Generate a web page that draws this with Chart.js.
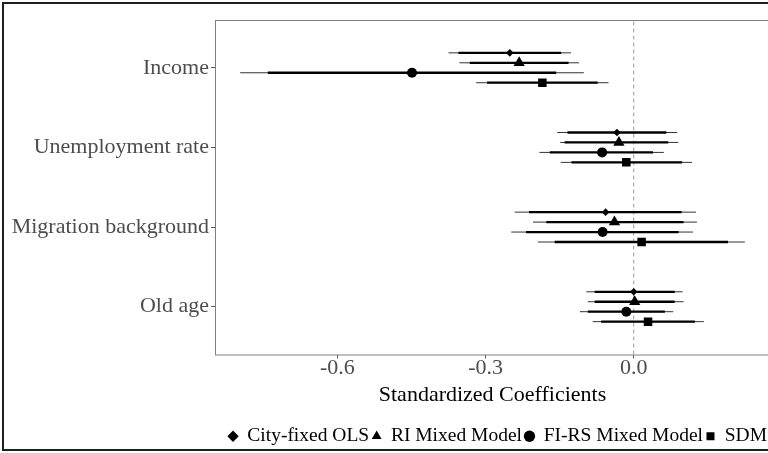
<!DOCTYPE html>
<html>
<head>
<meta charset="utf-8">
<script src="https://cdn.jsdelivr.net/npm/chart.js@4"></script>
<style>
    html, body { margin: 0; padding: 0; background: #fff; overflow: hidden; }
    #wrap { position: relative; width: 768px; height: 453px; overflow: hidden; }
    #coefChart { position: absolute; left: 0; top: 0; }
    #frame { position: absolute; left: 2px; top: 2px; width: 800px; height: 449px;
             border: 2px solid #1e1e1e; box-sizing: border-box; pointer-events: none; }
</style>
</head>
<body>
<div id="wrap">
    <canvas id="coefChart" width="785" height="453"></canvas>
    <div id="frame"></div>
</div>
<script>
// categories, top to bottom
const categories = ["Income", "Unemployment rate", "Migration background", "Old age"];
const categoryPos = [4, 3, 2, 1];
const models = ["City-fixed OLS", "RI Mixed Model", "FI-RS Mixed Model", "SDM"];
const modelShapes = ["rectRot", "triangle", "circle", "rect"];
const modelRadius = [3.8, 6.5, 5, 6];
const dodge = [0.1875, 0.0625, -0.0625, -0.1875];
const xTicks = [-0.6, -0.3, 0.0];

// point estimates per model (Income, Unemployment, Migration, Old age)
const olsEst  = [-0.251, -0.034, -0.057, 0.000];
const riEst   = [-0.232, -0.030, -0.039, 0.002];
const fiEst   = [-0.449, -0.064, -0.063, -0.015];
const sdmEst  = [-0.185, -0.015, 0.016, 0.029];

// inner (thick) intervals
const olsLo90 = [-0.355, -0.134, -0.212, -0.079];
const olsHi90 = [-0.147, 0.066, 0.097, 0.083];
const riLo90  = [-0.332, -0.140, -0.177, -0.079];
const riHi90  = [-0.132, 0.070, 0.101, 0.083];
const fiLo90  = [-0.741, -0.170, -0.218, -0.093];
const fiHi90  = [-0.157, 0.039, 0.091, 0.063];
const sdmLo90 = [-0.297, -0.126, -0.160, -0.066];
const sdmHi90 = [-0.073, 0.098, 0.191, 0.124];

// outer (thin) intervals
const olsLo95 = [-0.375, -0.155, -0.241, -0.096];
const olsHi95 = [-0.127, 0.088, 0.126, 0.099];
const riLo95  = [-0.353, -0.149, -0.204, -0.093];
const riHi95  = [-0.111, 0.090, 0.128, 0.101];
const fiLo95  = [-0.797, -0.191, -0.248, -0.109];
const fiHi95  = [-0.101, 0.061, 0.120, 0.080];
const sdmLo95 = [-0.319, -0.148, -0.194, -0.083];
const sdmHi95 = [-0.051, 0.118, 0.225, 0.142];

const estimates = [olsEst, riEst, fiEst, sdmEst];
const lo90 = [olsLo90, riLo90, fiLo90, sdmLo90];
const hi90 = [olsHi90, riHi90, fiHi90, sdmHi90];
const lo95 = [olsLo95, riLo95, fiLo95, sdmLo95];
const hi95 = [olsHi95, riHi95, fiHi95, sdmHi95];

const serif = "'Liberation Serif', 'DejaVu Serif', serif";

const datasets = [];

// points (drawn on top)
models.forEach((name, m) => {
    datasets.push({
        label: name,
        data: categoryPos.map((p, c) => ({ x: estimates[m][c], y: p + dodge[m] })),
        pointStyle: modelShapes[m],
        pointRadius: modelRadius[m],
        backgroundColor: "#000",
        borderColor: "#000",
        borderWidth: 0,
        showLine: false,
        order: 0
    });
});

// interval segments
models.forEach((name, m) => {
    categoryPos.forEach((p, c) => {
        const y = p + dodge[m];
        datasets.push({
            label: "",
            data: [{ x: lo90[m][c], y }, { x: hi90[m][c], y }],
            showLine: true, borderColor: "#000", borderWidth: 2.3,
            pointRadius: 0, order: 1
        });
        datasets.push({
            label: "",
            data: [{ x: lo95[m][c], y }, { x: hi95[m][c], y }],
            showLine: true, borderColor: "#333", borderWidth: 1,
            pointRadius: 0, order: 2
        });
    });
});

// dashed zero reference
datasets.push({
    label: "",
    data: [{ x: 0, y: 0.4 }, { x: 0, y: 4.6 }],
    showLine: true, borderColor: "#9a9a9a", borderWidth: 1,
    borderDash: [4, 3], pointRadius: 0, order: 3
});

// grey panel outline
const panelBorder = {
    id: "panelBorder",
    afterDatasetsDraw(chart) {
        const a = chart.chartArea;
        const ctx = chart.ctx;
        ctx.save();
        ctx.strokeStyle = "#7f7f7f";
        ctx.lineWidth = 1;
        ctx.strokeRect(a.left + 0.5, a.top + 0.5, a.right - a.left, a.bottom - a.top);
        ctx.restore();
    }
};

new Chart(document.getElementById("coefChart").getContext("2d"), {
    type: "scatter",
    data: { datasets },
    plugins: [panelBorder],
    options: {
        responsive: false,
        animation: false,
        layout: { padding: { top: 20, left: 0, right: 15, bottom: -3 } },
        plugins: {
            tooltip: { enabled: false },
            legend: {
                position: "bottom",
                align: "end",
                labels: {
                    usePointStyle: true,
                    boxWidth: 9,
                    boxHeight: 8,
                    padding: 3,
                    color: "#000",
                    font: { family: serif, size: 19.5 },
                    filter: item => models.includes(item.text)
                }
            }
        },
        scales: {
            x: {
                type: "linear",
                min: -0.848,
                max: 0.276,
                afterBuildTicks: axis => { axis.ticks = xTicks.map(v => ({ value: v })); },
                afterFit: axis => { axis.height = 69; },
                ticks: {
                    color: "#4d4d4d",
                    padding: -1,
                    font: { family: serif, size: 22, lineHeight: 1 },
                    callback: v => Number(v).toFixed(1)
                },
                grid: { drawOnChartArea: false, drawTicks: true, tickLength: 4, color: "#555" },
                border: { display: false },
                title: {
                    display: true,
                    text: "Standardized Coefficients",
                    color: "#000",
                    font: { family: serif, size: 22, lineHeight: 1 },
                    padding: { top: 0, bottom: 17 }
                }
            },
            y: {
                type: "linear",
                min: 0.4,
                max: 4.6,
                afterBuildTicks: axis => { axis.ticks = categoryPos.map(v => ({ value: v })); },
                afterFit: axis => { axis.width = 215; },
                ticks: {
                    color: "#4d4d4d",
                    padding: 2,
                    font: { family: serif, size: 22 },
                    callback: v => categories[categoryPos.indexOf(v)]
                },
                grid: { drawOnChartArea: false, drawTicks: true, tickLength: 4, color: "#555" },
                border: { display: false }
            }
        }
    }
});
</script>
</body>
</html>
